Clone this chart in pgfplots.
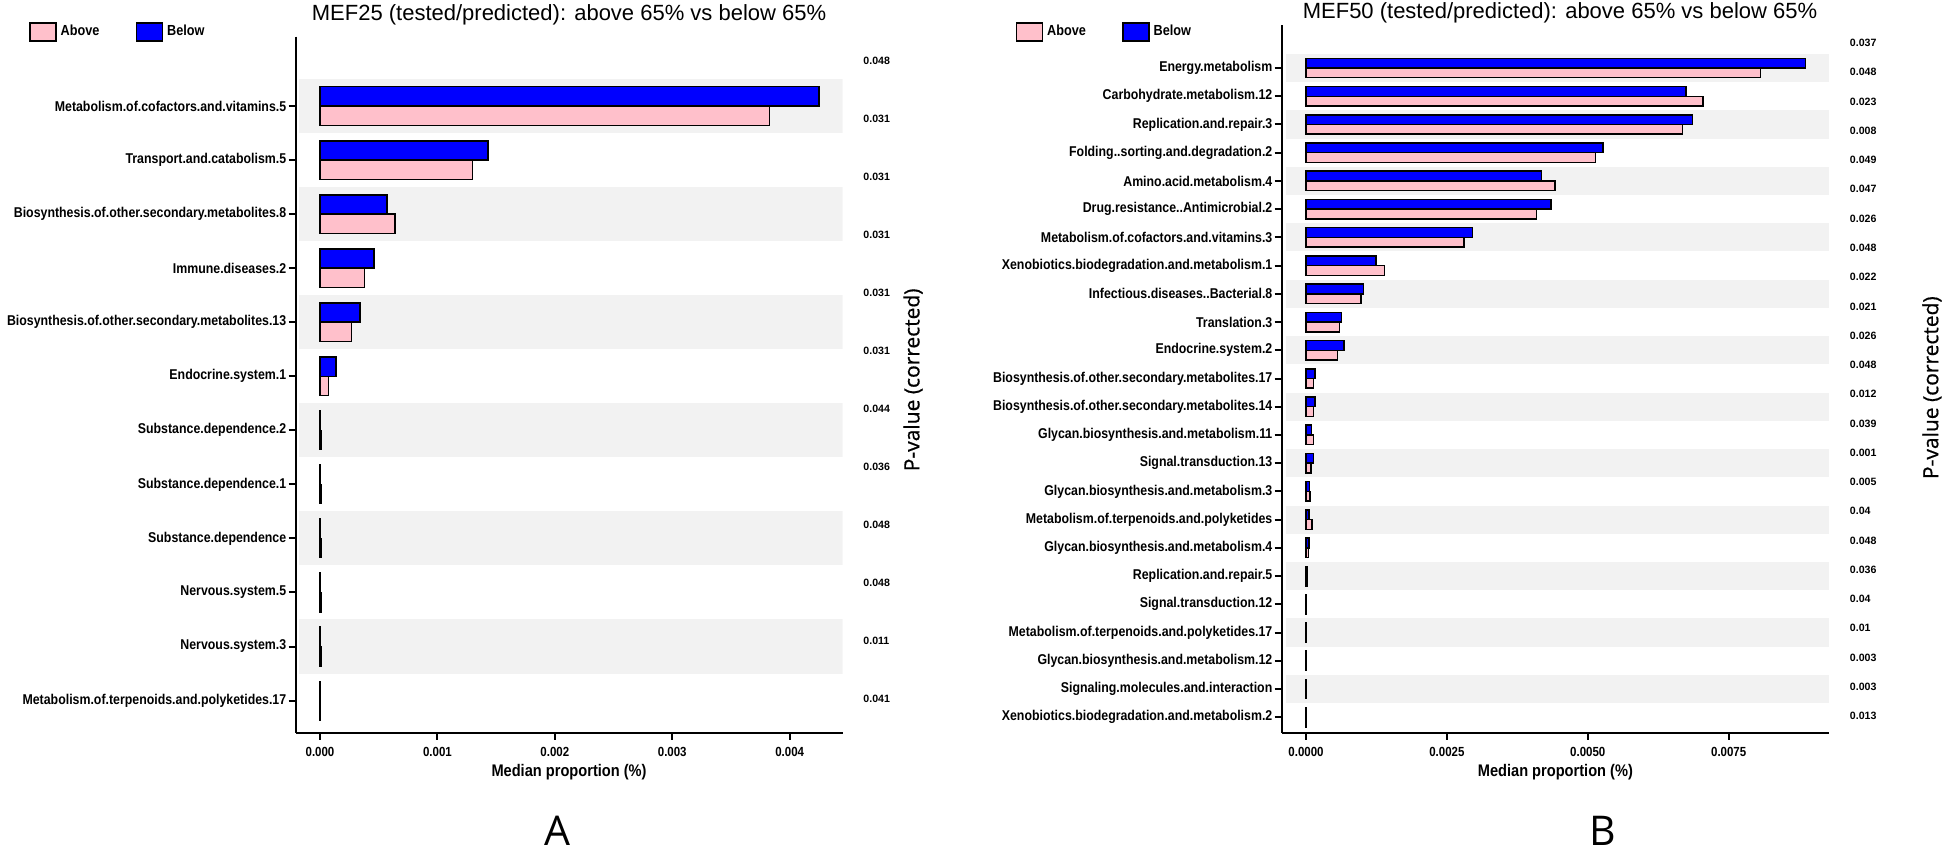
\documentclass[border=0pt]{standalone}
\usepackage{pgfplots}
\pgfplotsset{compat=1.18}
\usepackage{pgfplotstable}
\usepackage{fontspec}
\setmainfont{Liberation Sans}
\newfontfamily\nb[FakeStretch=0.87]{Liberation Sans}
\newfontfamily\os{Open Sans}
\newfontfamily\osb[FakeBold=0.6]{Open Sans}

\definecolor{barblue}{RGB}{0,0,255}
\definecolor{barpink}{RGB}{255,192,203}
\definecolor{bandgray}{RGB}{242,242,242}

% MEF25: median proportion (%), below / above 65%
\pgfplotstableread{
idx below above
0  0.00425  0.00383
1  0.00143  0.00130
2  0.00057  0.00064
3  0.00046  0.00038
4  0.00034  0.00027
5  0.000135 0.000073
6  0.000005 0.000008
7  0.000005 0.000008
8  0.000005 0.000008
9  0.000005 0.000008
10 0.000005 0.000008
11 0.000003 0.000003
}\mefA

% MEF50
\pgfplotstableread{
idx below above
0  0.00886 0.00806
1  0.00674 0.00704
2  0.00686 0.00668
3  0.00527 0.00514
4  0.00418 0.00442
5  0.00435 0.00409
6  0.00295 0.00280
7  0.00124 0.00139
8  0.00102 0.00098
9  0.00063 0.00059
10 0.00067 0.00056
11 0.00016 0.00013
12 0.00016 0.00013
13 0.00010 0.00013
14 0.00013 0.00009
15 0.00006 0.00007
16 0.00005 0.00011
17 0.00005 0.00004
18 0.00002 0.00002
19 0.00001 0.00001
20 0.00001 0.00001
21 0.00001 0.00001
22 0.00001 0.00001
23 0.00001 0.00001
}\mefB

\pgfplotsset{
  stamp/.style={
    scale only axis, y dir=reverse,
    axis x line*=bottom, axis y line*=left,
    axis line style={-, line width=1.1pt, black},
    tick style={line width=1pt, black}, tick align=outside,
    major tick length=3.5pt, minor tick num=0,
    yticklabel style={font=\nb\bfseries\fontsize{7.1}{8}\selectfont, inner sep=1pt},
    xticklabel style={font=\nb\bfseries\fontsize{6.6}{7}\selectfont,
      /pgf/number format/fixed, /pgf/number format/fixed zerofill,
      /pgf/number format/assume math mode=true},
    scaled x ticks=false,
    xlabel={Median proportion (\%)},
    xlabel style={font=\nb\bfseries\fontsize{8.4}{9}\selectfont,
      at={(axis description cs:0.5,-0.0622)}, anchor=base},
    title style={font=\fontsize{11}{12}\selectfont, anchor=base, yshift=-6pt},
    legend style={draw=none, fill=none, inner sep=0pt,
      font=\nb\bfseries\fontsize{7.3}{8}\selectfont, legend columns=2, anchor=west},
  },
  pside/.style={
    scale only axis, y dir=reverse, hide x axis,
    axis y line*=right, y axis line style={draw=none},
    ytick style={draw=none}, major tick length=0pt,
    yticklabel style={font=\bfseries\fontsize{5.3}{6}\selectfont, anchor=west,
      inner sep=0pt, xshift=10.25pt},
    xmin=0, xmax=1,
    ylabel={P-value (corrected)},
    ylabel style={font=\osb\fontsize{10.5}{12}\selectfont, anchor=center},
  },
  belowbar/.style={xbar, fill=barblue, draw=black, line width=0.75pt,
    legend image code/.code={\draw[##1, line width=0.8pt] (0pt,-4.5pt) rectangle (13pt,4.5pt);}},
  abovebar/.style={xbar, fill=barpink, draw=black, line width=0.75pt,
    legend image code/.code={\draw[##1, line width=0.8pt] (0pt,-4.5pt) rectangle (13pt,4.5pt);}},
}

\begin{document}
\begin{tikzpicture}
\useasboundingbox (0,0) rectangle (971.5pt,-426pt);

% ---------- panel A ----------
\begin{axis}[stamp,
  at={(147.8pt,-366.35pt)}, anchor=south west,
  width=273.45pt, height=348pt,
  xmin=-0.000208, xmax=0.00445, ymin=-1.282, ymax=11.595,
  xtick={0,0.001,0.002,0.003,0.004},
  xticklabel style={/pgf/number format/precision=3},
  ytick={0,...,11},
  yticklabels={Metabolism.of.cofactors.and.vitamins.5, Transport.and.catabolism.5,
    Biosynthesis.of.other.secondary.metabolites.8, Immune.diseases.2,
    Biosynthesis.of.other.secondary.metabolites.13, Endocrine.system.1,
    Substance.dependence.2, Substance.dependence.1, Substance.dependence,
    Nervous.system.5, Nervous.system.3, Metabolism.of.terpenoids.and.polyketides.17},
  title={MEF25 (tested/predicted): above 65\% vs below 65\%},
  title style={at={(axis description cs:0.5,1.023)}},
  legend style={at={(axis description cs:-0.488,1.0072)}},
]
\pgfplotsinvokeforeach{0,2,...,10}{
  \fill[bandgray] (axis cs:-0.000178,#1-0.5) rectangle (axis cs:0.00445,#1+0.5);
}
\addplot[abovebar, bar width=0.357, bar shift=0.1786] table[x=above, y=idx] {\mefA};
\addlegendentry{Above\hspace*{16pt}}
\addplot[belowbar, bar width=0.357, bar shift=-0.1786] table[x=below, y=idx] {\mefA};
\addlegendentry{Below}
\end{axis}

\begin{axis}[pside,
  at={(147.8pt,-366.35pt)}, anchor=south west,
  width=273.45pt, height=348pt,
  ymin=-0.419, ymax=11.576, ytick={0,...,11},
  yticklabels={0.048,0.031,0.031,0.031,0.031,0.031,0.044,0.036,0.048,0.048,0.011,0.041},
  ylabel style={at={(axis description cs:1.129,0.507)}},
]
\end{axis}

% ---------- panel B ----------
\begin{axis}[stamp,
  at={(640.85pt,-366.35pt)}, anchor=south west,
  width=273.65pt, height=353.85pt,
  xmin=-0.000431, xmax=0.00928, ymin=-1.524, ymax=23.55,
  xtick={0,0.0025,0.005,0.0075},
  xticklabel style={/pgf/number format/precision=4},
  ytick={0,...,23},
  yticklabels={Energy.metabolism, Carbohydrate.metabolism.12, Replication.and.repair.3,
    Folding..sorting.and.degradation.2, Amino.acid.metabolism.4,
    Drug.resistance..Antimicrobial.2, Metabolism.of.cofactors.and.vitamins.3,
    Xenobiotics.biodegradation.and.metabolism.1, Infectious.diseases..Bacterial.8,
    Translation.3, Endocrine.system.2, Biosynthesis.of.other.secondary.metabolites.17,
    Biosynthesis.of.other.secondary.metabolites.14, Glycan.biosynthesis.and.metabolism.11,
    Signal.transduction.13, Glycan.biosynthesis.and.metabolism.3,
    Metabolism.of.terpenoids.and.polyketides, Glycan.biosynthesis.and.metabolism.4,
    Replication.and.repair.5, Signal.transduction.12,
    Metabolism.of.terpenoids.and.polyketides.17, Glycan.biosynthesis.and.metabolism.12,
    Signaling.molecules.and.interaction, Xenobiotics.biodegradation.and.metabolism.2},
  title={MEF50 (tested/predicted): above 65\% vs below 65\%},
  title style={at={(axis description cs:0.5085,1.0095)}},
  legend style={at={(axis description cs:-0.487,0.9905)}},
]
\pgfplotsinvokeforeach{0,2,...,22}{
  \fill[bandgray] (axis cs:-0.000355,#1-0.5) rectangle (axis cs:0.00928,#1+0.5);
}
\addplot[abovebar, bar width=0.344, bar shift=0.172] table[x=above, y=idx] {\mefB};
\addlegendentry{Above\hspace*{16pt}}
\addplot[belowbar, bar width=0.344, bar shift=-0.172] table[x=below, y=idx] {\mefB};
\addlegendentry{Below}
\end{axis}

\begin{axis}[pside,
  at={(640.85pt,-366.35pt)}, anchor=south west,
  width=273.65pt, height=353.85pt,
  ymin=-0.615, ymax=23.57, ytick={0,...,23},
  yticklabels={0.037,0.048,0.023,0.008,0.049,0.047,0.026,0.048,0.022,0.021,0.026,0.048,
    0.012,0.039,0.001,0.005,0.04,0.048,0.036,0.04,0.01,0.003,0.003,0.013},
  ylabel style={at={(axis description cs:1.188,0.4876)}},
]
\end{axis}

% panel letters
\node[anchor=base, inner sep=0pt, font=\os\fontsize{20.5}{24}\selectfont] at (278.75pt,-422.5pt) {A};
\node[anchor=base, inner sep=0pt, font=\os\fontsize{20.5}{24}\selectfont] at (801.5pt,-422.5pt) {B};
\end{tikzpicture}
\end{document}
